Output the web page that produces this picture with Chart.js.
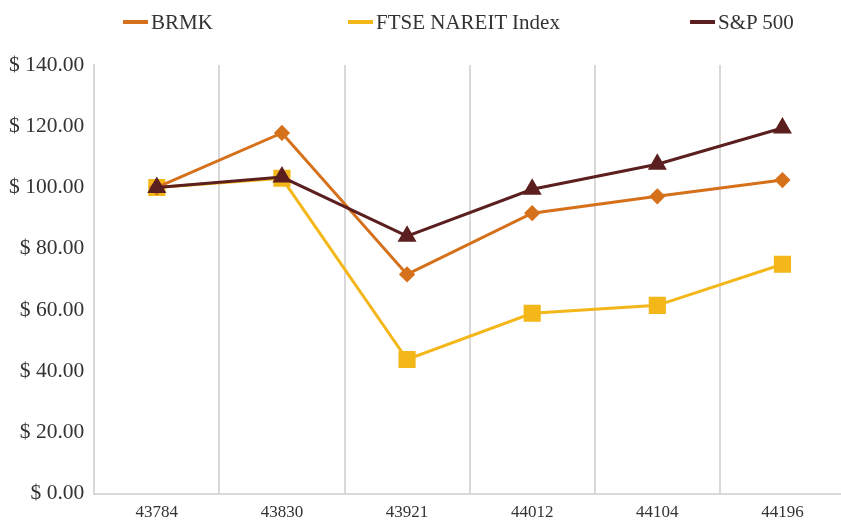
<!DOCTYPE html>
<html>
<head>
<meta charset="utf-8">
<script src="https://cdn.jsdelivr.net/npm/chart.js@4"></script>
<style>
  body { margin: 0; background: #fff; }
  #wrap { position: relative; width: 841px; height: 526px; overflow: hidden; }
  #legend { position: absolute; left: 0; top: 0; width: 841px; height: 44px; font-family: "Liberation Serif", "DejaVu Serif", serif; font-size: 21px; color: #333; }
  .item { position: absolute; top: 10px; white-space: nowrap; line-height: 24px; }
  .swatch { display: inline-block; width: 25px; height: 4px; vertical-align: middle; margin-right: 3px; position: relative; top: -2px; }
</style>
</head>
<body>
<div id="wrap">
  <div id="legend"></div>
  <canvas id="myChart" width="858" height="526"></canvas>
</div>
<script>
var labels = ['43784', '43830', '43921', '44012', '44104', '44196'];
var brmk = [100, 117.8, 71.6, 91.6, 97.1, 102.4];
var ftse = [100, 103, 43.8, 58.9, 61.5, 74.9];
var sp500 = [100, 103.4, 84.1, 99.4, 107.6, 119.4];
var seriesNames = ['BRMK', 'FTSE NAREIT Index', 'S&P 500'];
var seriesColors = ['#d5701b', '#f4b71a', '#5b1f1f'];
var legendLeft = [123, 348, 690];

var ctx = document.getElementById('myChart');

var myChart = new Chart(ctx, {
    type: 'line',
    data: {
        labels: labels,
        datasets: [{
            label: seriesNames[0],
            data: brmk,
            borderColor: seriesColors[0],
            backgroundColor: seriesColors[0],
            borderWidth: 3,
            pointStyle: 'rectRot',
            pointRadius: 6,
            order: 2
        }, {
            label: seriesNames[1],
            data: ftse,
            borderColor: seriesColors[1],
            backgroundColor: seriesColors[1],
            borderWidth: 3,
            pointStyle: 'rect',
            pointRadius: 10,
            order: 3
        }, {
            label: seriesNames[2],
            data: sp500,
            borderColor: seriesColors[2],
            backgroundColor: seriesColors[2],
            borderWidth: 3,
            pointStyle: 'triangle',
            pointRadius: 8,
            order: 1
        }]
    },
    options: {
        responsive: false,
        animation: false,
        layout: { padding: { top: 65, right: 0, left: -1, bottom: -6 } },
        plugins: {
            legend: { display: false },
            tooltip: { enabled: false }
        },
        scales: {
            x: {
                offset: true,
                grid: { offset: true, color: '#d9d9d9', lineWidth: 2, drawTicks: false },
                border: { color: '#d9d9d9', width: 2 },
                ticks: { color: '#333', padding: 9, font: { family: 'Liberation Serif', size: 17 } }
            },
            y: {
                min: 0,
                max: 140,
                grid: { display: false, drawTicks: false },
                border: { color: '#d9d9d9', width: 2 },
                ticks: {
                    stepSize: 20,
                    color: '#333',
                    padding: 10,
                    font: { family: 'Liberation Serif', size: 21.5 },
                    callback: function (v) { return '$ ' + v.toFixed(2); }
                }
            }
        }
    }
});

var legend = document.getElementById('legend');
myChart.data.datasets.forEach(function (ds, i) {
    var item = document.createElement('div');
    item.className = 'item';
    item.style.left = legendLeft[i] + 'px';
    var sw = document.createElement('span');
    sw.className = 'swatch';
    sw.style.background = ds.borderColor;
    item.appendChild(sw);
    item.appendChild(document.createTextNode(ds.label));
    legend.appendChild(item);
});
</script>
</body>
</html>
